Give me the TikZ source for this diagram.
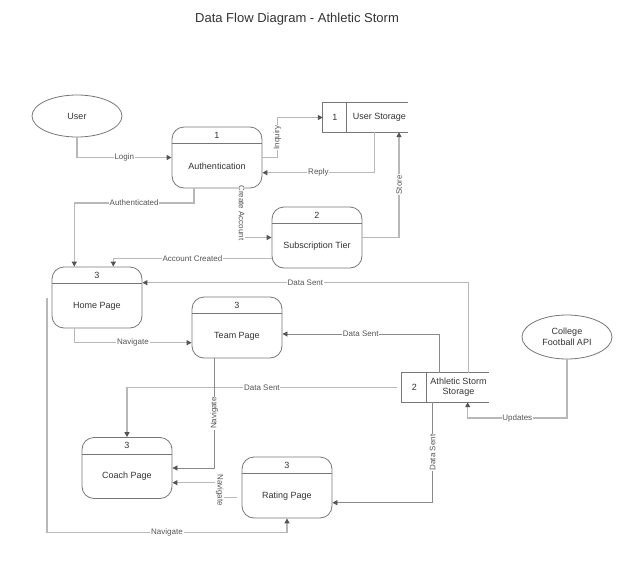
\documentclass[tikz,border=0pt]{standalone}
\usepackage{fontspec}
\setmainfont{Liberation Sans}
\usetikzlibrary{arrows.meta,shapes.geometric,calc}
\definecolor{lineL}{HTML}{B8B8B8}
\definecolor{lineD}{HTML}{8A8A8A}
\definecolor{boxc}{HTML}{777777}
\definecolor{txt}{HTML}{333333}
\definecolor{lbltxt}{HTML}{555555}
\definecolor{tipc}{HTML}{555555}
\tikzset{
  proc/.style={draw=boxc, line width=0.8pt, rounded corners=12pt, minimum width=90pt, minimum height=61pt, inner sep=0pt},
  procline/.style={draw=boxc, line width=0.8pt},
  ptext/.style={text=txt, font=\fontsize{9}{10}\selectfont, inner sep=0pt, align=center},
  ent/.style={ellipse, draw=boxc, line width=0.8pt, minimum width=90pt, minimum height=42pt, inner sep=0pt, text=txt, font=\fontsize{9}{10.5}\selectfont, align=center},
  storebox/.style={minimum width=#1, minimum height=29pt, inner sep=0pt},
  conn/.style={draw=lineL, line width=1.3pt, -{Triangle[length=5pt,width=5pt,color=tipc]}},
  connd/.style={draw=lineD, line width=0.8pt, -{Triangle[length=5pt,width=5pt,color=tipc]}},
  plainconn/.style={draw=lineL, line width=1.3pt},
  lbl/.style={fill=white, text=lbltxt, font=\fontsize{8}{9}\selectfont, inner sep=0.8pt},
  titlestyle/.style={text=txt, font=\fontsize{13}{15}\selectfont},
}
\newcommand\procbox[5]{%
  \node[proc] (#1) at (#2,#3) {};
  \draw[procline] ([yshift=-17pt]#1.north west) -- ([yshift=-17pt]#1.north east);
  \node[ptext] (#1num) at ([yshift=-8.5pt]#1.north) {#4};
  \node[ptext] (#1lbl) at ([yshift=-8.5pt]#1.center) {#5};
}
\begin{document}
\begin{tikzpicture}[x=1pt,y=-1pt]
\useasboundingbox[fill=white] (0,0) rectangle (643,581);

\node[titlestyle] (title) at (297,19) {Data Flow Diagram - Athletic Storm};

% external entities
\node[ent] (user) at (77,116) {User};
\node[ent, minimum height=44pt] (api) at (567,337) {College\\Football API};

% processes
\procbox{auth}{217}{157.5}{1}{Authentication}
\procbox{sub}{317}{237.5}{2}{Subscription Tier}
\procbox{home}{97}{297.5}{3}{Home Page}
\procbox{team}{237}{327.5}{3}{Team Page}
\procbox{coach}{127}{468}{3}{Coach Page}
\procbox{rating}{287}{487.5}{3}{Rating Page}

% data stores
\node[storebox=85pt] (us) at (365.5,117.5) {};
\draw[procline] (us.north east) -- (us.north west) -- (us.south west) -- (us.south east);
\draw[procline] ([xshift=24pt]us.north west) -- ([xshift=24pt]us.south west);
\node[ptext] (usnum) at ([xshift=12pt]us.west) {1};
\node[ptext] (uslbl) at ([xshift=14pt]us.center) {User Storage};

\node[storebox=87pt] (as) at (445.5,387.5) {};
\draw[procline] (as.north east) -- (as.north west) -- (as.south west) -- (as.south east);
\draw[procline] ([xshift=25pt]as.north west) -- ([xshift=25pt]as.south west);
\node[ptext] (asnum) at ([xshift=12.5pt]as.west) {2};
\node[ptext] (aslbl) at ([xshift=13pt]as.center) {Athletic Storm\\Storage};

% connectors
\draw[conn] (user) |- node[lbl,pos=0.75]{Login} (auth);
\draw[conn] (auth.east) -- ++(15,0) coordinate (inq) -- node[lbl,rotate=90]{Inquiry} (inq |- us.west) -- (us.west);
\draw[conn] ([xshift=9pt]us.south) |- node[lbl,pos=0.75]{Reply} ([yshift=-15.2pt]auth.east);
\draw[conn] (sub.east) -| node[lbl,rotate=90,pos=0.75]{Store} ([xshift=33.5pt]us.south);
\draw[conn] ([xshift=24.7pt]auth.south) |- node[lbl,rotate=-90,pos=0.25]{Create Account} (sub.west);
\draw[conn] ([xshift=-23pt]auth.south) -- ++(0,14.7) -| node[lbl,pos=0.25]{Authenticated} ([xshift=-22.7pt]home.north);
\draw[conn] ([yshift=-20.8pt]sub.west) -| node[lbl,pos=0.25]{Account Created} ([xshift=16.3pt]home.north);
\draw[conn] ([xshift=22.8pt]as.north) |- node[lbl,pos=0.75]{Data Sent} ([yshift=14.8pt]home.east);
\draw[connd] ([xshift=-6.5pt]as.north) |- node[lbl,pos=0.75]{Data Sent} ([yshift=-6.5pt]team.east);
\draw[conn] ([xshift=-22.7pt]home.south) |- node[lbl,pos=0.75]{Navigate} ([yshift=-15.2pt]team.west);
\draw[conn] ([xshift=-5pt]as.west) -| node[lbl,pos=0.25]{Data Sent} (coach.north);
\draw[connd] ([xshift=-22.7pt]team.south) |- node[lbl,rotate=90,pos=0.25]{Navigate} (coach.east);
\draw[conn] ([xshift=-5pt,yshift=-10.2pt]rating.west) -- ++(-17,0) -- node[lbl,rotate=-90]{Navigate} ++(0,-15) -- ([yshift=-14.7pt]coach.east);
\coordinate (navstart) at (47,298);
\draw[conn] (navstart) -- ++(0,234.7) -| node[lbl,pos=0.25]{Navigate} (rating.south);
\draw[connd] ([xshift=-12.8pt]as.south) |- node[lbl,rotate=90,pos=0.25]{Data Sent} ([yshift=-15.2pt]rating.east);
\draw[conn] (api.south) -- ++(0,58.7) -| node[lbl,pos=0.25]{Updates} ([xshift=22.2pt]as.south);
\end{tikzpicture}
\end{document}
